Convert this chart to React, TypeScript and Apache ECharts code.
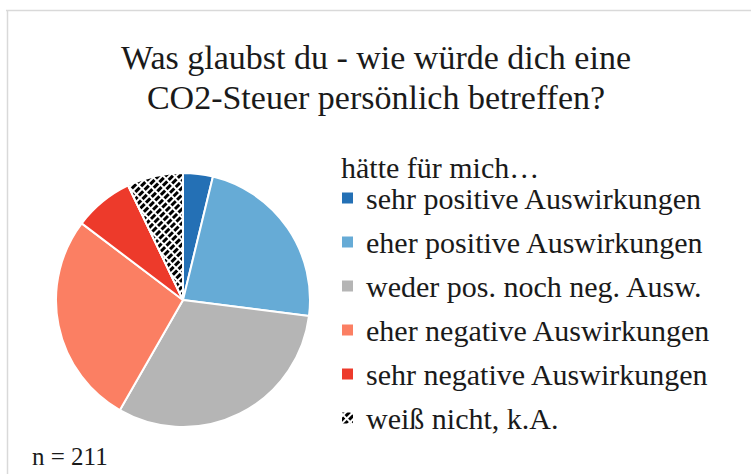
import React, { useEffect, useRef } from "react";
import * as echarts from "echarts";

const titleLines = ["Was glaubst du - wie würde dich eine", "CO2-Steuer persönlich betreffen?"];
const legendTitle = "hätte für mich…";
const categories = [
  "sehr positive Auswirkungen",
  "eher positive Auswirkungen",
  "weder pos. noch neg. Ausw.",
  "eher negative Auswirkungen",
  "sehr negative Auswirkungen",
  "weiß nicht, k.A.",
];
const counts = [8, 49, 66, 57, 16, 15];
const colors = ["#2470b5", "#66abd6", "#b5b5b5", "#fb7f63", "#ed3a2b", "#000000"];
const sampleNote = "n = 211";

const FONT = "Liberation Serif";

export default function App() {
  const ref = useRef<HTMLDivElement>(null);
  useEffect(() => {
    if (!ref.current) return;
    const chart = echarts.init(ref.current, null, { renderer: "svg" });
    const data = categories.map((name, i) => {
      const item: any = { name, value: counts[i], itemStyle: { color: colors[i] } };
      if (i === categories.length - 1) {
        item.itemStyle = {
          color: "#ffffff",
          decal: {
            symbol: "rect",
            symbolSize: 1,
            color: "#000000",
            backgroundColor: "#ffffff",
            dashArrayX: [[6, 2]],
            dashArrayY: [3, 1.5],
            rotation: -Math.PI / 4,
          },
        };
      }
      return item;
    });
    chart.setOption({
      animation: false,
      backgroundColor: "#ffffff",
      title: {
        text: titleLines.join("\n"),
        left: 376,
        top: 37,
        padding: 0,
        textAlign: "center",
        textStyle: {
          fontFamily: FONT,
          fontSize: 34,
          fontWeight: "normal",
          color: "#1a1a1a",
          lineHeight: 40,
        },
      },
      legend: {
        orient: "vertical",
        left: 335,
        top: 178,
        itemWidth: 13,
        itemHeight: 13,
        itemGap: 14,
        icon: "rect",
        selectedMode: false,
        data: categories,
        textStyle: {
          fontFamily: FONT,
          fontSize: 30,
          color: "#1a1a1a",
          lineHeight: 30,
          padding: [0, 0, 0, 7],
        },
      },
      graphic: [
        { type: "line", shape: { x1: 6, y1: 10.5, x2: 751, y2: 10.5 }, style: { stroke: "#d9d9d9", lineWidth: 1.5 } },
        { type: "line", shape: { x1: 7.5, y1: 10, x2: 7.5, y2: 474 }, style: { stroke: "#d9d9d9", lineWidth: 1.5 } },
        {
          type: "text",
          left: 341,
          top: 152,
          style: { text: legendTitle, fontFamily: FONT, fontSize: 30, fill: "#1a1a1a" },
        },
        {
          type: "text",
          left: 32,
          top: 444,
          style: { text: sampleNote, fontFamily: FONT, fontSize: 25, fill: "#1a1a1a" },
        },
      ],
      series: [
        {
          type: "pie",
          center: [183, 300],
          radius: 127,
          startAngle: 90,
          clockwise: true,
          label: { show: false },
          labelLine: { show: false },
          itemStyle: { borderColor: "#ffffff", borderWidth: 2 },
          data,
        },
      ],
    });
    return () => chart.dispose();
  }, []);
  return (
    <div
      ref={ref}
      style={{ position: "absolute", left: 0, top: 0, width: 751, height: 474 }}
    />
  );
}
